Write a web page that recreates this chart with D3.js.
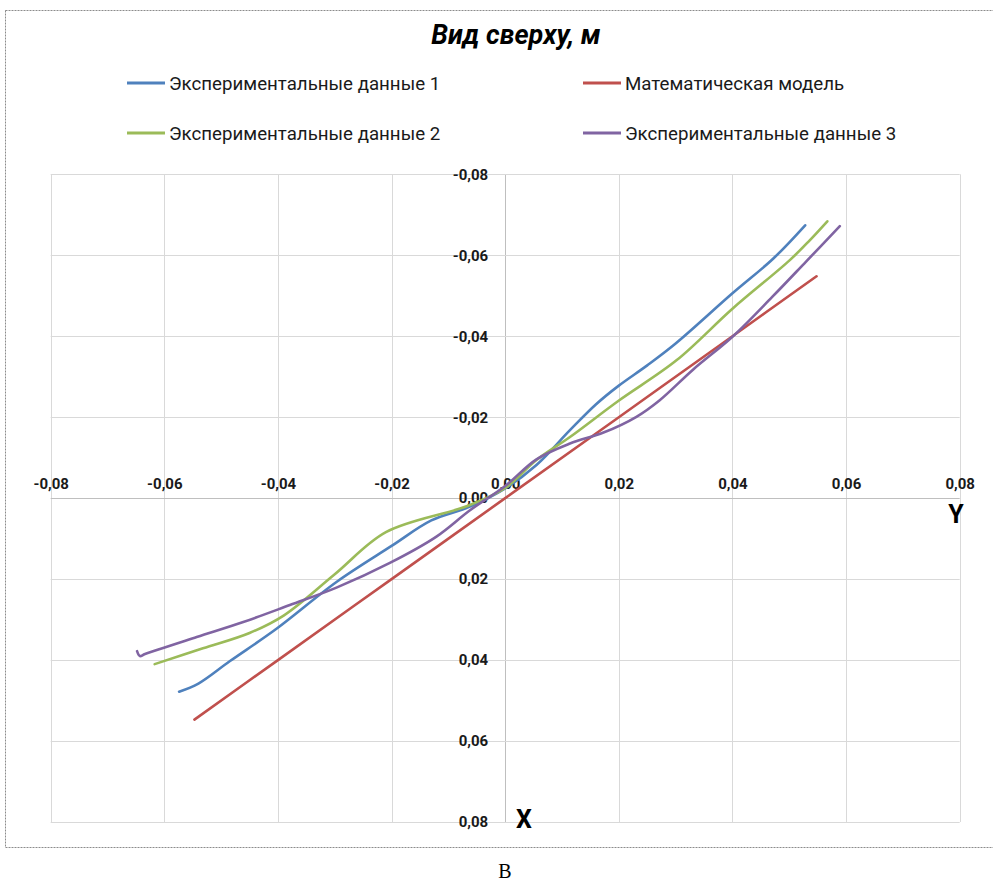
<!DOCTYPE html>
<html>
<head>
<meta charset="utf-8">
<script src="https://cdn.jsdelivr.net/npm/d3@7"></script>
<style>
  html, body { margin: 0; padding: 0; background: #fff; }
  svg { display: block; }
</style>
</head>
<body>
<svg id="chart" width="993" height="881"></svg>
<script>
// ---- data (horizontal value "Y", vertical value "X") ----
const chartTitle = "Вид сверху, м";
const seriesNames = ["Экспериментальные данные 1", "Математическая модель", "Экспериментальные данные 2", "Экспериментальные данные 3"];
const seriesColors = ["#4f81bd", "#c0504d", "#9bbb59", "#8064a2"];
const tickValues = [-0.08, -0.06, -0.04, -0.02, 0, 0.02, 0.04, 0.06, 0.08];

const exp1 = [[-0.0574,0.0478],[-0.0540,0.0458],[-0.0485,0.0403],[-0.0402,0.0322],[-0.0297,0.0207],[-0.0200,0.0118],[-0.0130,0.0055],[-0.0062,0.0021],[0.0,-0.0024],[0.0055,-0.0082],[0.0114,-0.0168],[0.0160,-0.0232],[0.0200,-0.0278],[0.0250,-0.0328],[0.0300,-0.0382],[0.0400,-0.0506],[0.0472,-0.0592],[0.0528,-0.0674]];
const model = [[-0.0547,0.0547],[-0.04,0.04],[-0.02,0.02],[0,0],[0.02,-0.02],[0.04,-0.04],[0.0548,-0.0548]];
const exp2 = [[-0.0617,0.0410],[-0.0532,0.0371],[-0.0450,0.0333],[-0.0390,0.0290],[-0.0300,0.0188],[-0.0210,0.0084],[-0.0068,0.0020],[0.0,-0.0025],[0.0055,-0.0094],[0.0114,-0.0151],[0.0199,-0.0240],[0.0302,-0.0341],[0.0400,-0.0468],[0.0501,-0.0588],[0.0536,-0.0637],[0.0567,-0.0684]];
const exp3 = [[-0.0648,0.0378],[-0.0643,0.0390],[-0.0634,0.0385],[-0.0543,0.0343],[-0.0461,0.0306],[-0.0379,0.0264],[-0.0297,0.0221],[-0.0203,0.0160],[-0.0121,0.0095],[-0.0062,0.0030],[0.0,-0.0030],[0.0055,-0.0096],[0.0114,-0.0135],[0.0173,-0.0162],[0.0231,-0.0201],[0.0272,-0.0242],[0.0331,-0.0318],[0.0401,-0.0400],[0.0470,-0.0497],[0.0530,-0.0585],[0.0589,-0.0672]];
const seriesData = [exp1, model, exp2, exp3];

// ---- drawing ----
const svg = d3.select("#chart");
const FONT = "Roboto, 'Noto Sans', sans-serif";

// outer dotted frame
svg.append("rect").attr("x", 5.5).attr("y", 10.5).attr("width", 1000).attr("height", 837)
  .attr("fill", "none").attr("stroke", "#8c8c8c").attr("stroke-width", 1).attr("stroke-dasharray", "2,1");

const x = d3.scaleLinear().domain([-0.08, 0.08]).range([50.7, 959.7]);
const y = d3.scaleLinear().domain([-0.08, 0.08]).range([174.3, 822]);
const fmt = v => d3.format(".2f")(Math.abs(v) < 1e-9 ? 0 : v).replace(".", ",").replace("−", "-");

// grid
const grid = svg.append("g");
grid.selectAll("line.v").data(tickValues).join("line")
  .attr("x1", d => Math.round(x(d)) + 0.5).attr("x2", d => Math.round(x(d)) + 0.5)
  .attr("y1", y(-0.08)).attr("y2", y(0.08))
  .attr("stroke", d => d === 0 ? "#bfbfbf" : "#d9d9d9").attr("stroke-width", 1);
grid.selectAll("line.h").data(tickValues).join("line")
  .attr("y1", d => Math.round(y(d)) + 0.5).attr("y2", d => Math.round(y(d)) + 0.5)
  .attr("x1", x(-0.08)).attr("x2", x(0.08))
  .attr("stroke", d => d === 0 ? "#bfbfbf" : "#d9d9d9").attr("stroke-width", 1);

// horizontal axis labels (above the zero line)
const xAxis = d3.axisTop(x).tickValues(tickValues).tickFormat(fmt).tickSize(0).tickPadding(0);
const gx = svg.append("g").attr("transform", `translate(0,${y(0) - 14})`).call(xAxis);
gx.select(".domain").remove();
gx.selectAll("text").attr("font-family", FONT).attr("font-size", 15).attr("font-weight", "bold")
  .attr("fill", "#1a1a1a").attr("dy", "0.32em");

// vertical axis labels (left of the zero line)
const yAxis = d3.axisLeft(y).tickValues(tickValues).tickFormat(fmt).tickSize(0).tickPadding(0);
const gy = svg.append("g").attr("transform", `translate(${x(0) - 17},0)`).call(yAxis);
gy.select(".domain").remove();
gy.selectAll("text").attr("font-family", FONT).attr("font-size", 15).attr("font-weight", "bold")
  .attr("fill", "#1a1a1a").attr("dy", "0.32em");

// series
const line = d3.line().x(d => x(d[0])).y(d => y(d[1])).curve(d3.curveCatmullRom.alpha(0.5));
svg.append("g").selectAll("path").data(seriesData).join("path")
  .attr("d", line).attr("fill", "none")
  .attr("stroke", (d, i) => seriesColors[i]).attr("stroke-width", 2.6)
  .attr("stroke-linecap", "round").attr("stroke-linejoin", "round");

// title
svg.append("text").attr("x", 516).attr("y", 44).attr("text-anchor", "middle")
  .attr("font-family", FONT).attr("font-size", 27).attr("font-weight", "bold").attr("font-style", "italic")
  .attr("fill", "#000").text(chartTitle);

// legend
const legendPos = [[127, 83], [583, 83], [127, 133], [583, 133]];
const lg = svg.append("g").selectAll("g").data(seriesNames).join("g")
  .attr("transform", (d, i) => `translate(${legendPos[i][0]},${legendPos[i][1]})`);
lg.append("line").attr("x1", 0).attr("x2", 38).attr("y1", 0).attr("y2", 0)
  .attr("stroke", (d, i) => seriesColors[i]).attr("stroke-width", 3);
lg.append("text").attr("x", 42).attr("y", 0).attr("dy", "0.35em")
  .attr("font-family", FONT).attr("font-size", 18.7).attr("fill", "#1a1a1a").text(d => d);

// axis letters
svg.append("text").attr("x", 956).attr("y", 523).attr("text-anchor", "middle")
  .attr("font-family", FONT).attr("font-size", 25).attr("font-weight", "bold").text("Y");
svg.append("text").attr("x", 524).attr("y", 828).attr("text-anchor", "middle")
  .attr("font-family", FONT).attr("font-size", 25).attr("font-weight", "bold").text("X");

// caption
svg.append("text").attr("x", 505).attr("y", 878).attr("text-anchor", "middle")
  .attr("font-family", "'Liberation Serif', 'DejaVu Serif', serif").attr("font-size", 20).text("В");
</script>
</body>
</html>
